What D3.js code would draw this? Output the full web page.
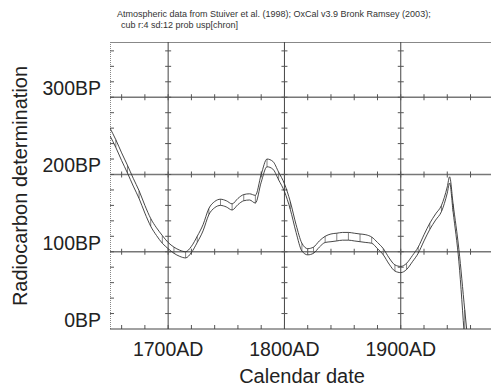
<!DOCTYPE html>
<html>
<head>
<meta charset="utf-8">
<script src="https://cdn.jsdelivr.net/npm/d3@7"></script>
<style>
  body { margin: 0; background: #fff; }
  svg { display: block; }
  text { font-family: "Liberation Sans", Arial, sans-serif; fill: #222; }
</style>
</head>
<body>
<div id="chart"></div>
<script>
// calibration curve (calendar year AD, radiocarbon age BP, 1 sigma)
const years = [1650,1655,1660,1665,1670,1675,1680,1685,1690,1695,
               1700,1705,1710,1715,1720,1725,1730,1735,1740,1745,
               1750,1755,1760,1765,1770,1775,1780,1785,1790,1795,
               1800,1805,1810,1815,1820,1825,1830,1835,1840,1845,
               1850,1855,1860,1865,1870,1875,1880,1885,1890,1895,
               1900,1905,1910,1915,1920,1925,1930,1935,1940,1942,
               1945,1950,1955,1960];
const bp = [255,240,223,207,190,174,155,138,126,116,
            108,102,98,96,103,116,131,152,161,164,
            162,158,165,170,171,168,195,215,212,198,
            183,160,130,106,100,102,110,116,118,119,
            120,120,119,118,117,115,108,100,88,79,
            77,81,91,102,118,133,145,156,180,193,
            157,95,5,-80];
const err = [5,5,5,5,5,5,5,5,5,5,
             4,4,4,4,4,4,4,4,4,4,
             4,4,4,4,4,5,5,5,5,5,
             5,5,5,5,4,4,4,4,5,5,
             5,5,5,5,5,4,4,4,4,4,
             4,4,4,4,4,4,4,4,4,4,
             5,8,20,30];

const xGrid = [1700, 1800, 1900];
const xLabels = ["1700AD", "1800AD", "1900AD"];
const yGrid = [0, 100, 200, 300];
const yLabels = ["0BP", "100BP", "200BP", "300BP"];
const titleLines = [
  "Atmospheric data from Stuiver et al. (1998); OxCal v3.9 Bronk Ramsey (2003);",
  "cub r:4 sd:12 prob usp[chron]"
];

const width = 491, height = 389;
const plotLeft = 110, plotTop = 42, plotBottom = 329;

const svg = d3.select("#chart").append("svg")
  .attr("width", width)
  .attr("height", height);

const x = d3.scaleLinear().domain([1650, 1980]).range([plotLeft, plotLeft + 330 * 1.163]);
const y = d3.scaleLinear().domain([0, 371.5]).range([plotBottom, plotTop]);

svg.append("clipPath").attr("id", "plot")
  .append("rect")
  .attr("x", plotLeft).attr("y", plotTop)
  .attr("width", width - plotLeft).attr("height", plotBottom - plotTop);

// frame
svg.append("line")
  .attr("x1", plotLeft).attr("x2", width).attr("y1", plotTop + 0.5).attr("y2", plotTop + 0.5)
  .attr("stroke", "#888").attr("stroke-width", 1);
svg.append("line")
  .attr("x1", plotLeft + 0.5).attr("x2", plotLeft + 0.5).attr("y1", plotTop).attr("y2", plotBottom)
  .attr("stroke", "#888").attr("stroke-width", 1).attr("stroke-dasharray", "1,1");

// grid lines
svg.selectAll(".vgrid")
  .data(xGrid)
  .enter()
  .append("line")
  .attr("x1", d => x(d)).attr("x2", d => x(d))
  .attr("y1", plotTop).attr("y2", plotBottom)
  .attr("stroke", "#444").attr("stroke-width", 1);

svg.selectAll(".hgrid")
  .data(yGrid.filter(d => d > 0))
  .enter()
  .append("line")
  .attr("x1", plotLeft).attr("x2", width)
  .attr("y1", d => y(d)).attr("y2", d => y(d))
  .attr("stroke", "#777").attr("stroke-width", 1.3);

// small ticks every 20 years / 20 BP, on the grid lines and the axes
const minorYears = d3.range(1660, 1981, 20);
const minorBP = d3.range(20, 371, 20);

yGrid.filter(d => d > 0).forEach(g => {
  svg.selectAll(null)
    .data(minorYears)
    .enter()
    .append("line")
    .attr("x1", d => x(d)).attr("x2", d => x(d))
    .attr("y1", y(g) - 3).attr("y2", y(g) + 3)
    .attr("stroke", "#555").attr("stroke-width", 1);
});

xGrid.forEach(g => {
  svg.selectAll(null)
    .data(minorBP)
    .enter()
    .append("line")
    .attr("x1", x(g) - 3).attr("x2", x(g) + 3)
    .attr("y1", d => y(d)).attr("y2", d => y(d))
    .attr("stroke", "#555").attr("stroke-width", 1);
});

svg.selectAll(".ltick")
  .data(minorBP)
  .enter()
  .append("line")
  .attr("x1", plotLeft).attr("x2", plotLeft + 4)
  .attr("y1", d => y(d)).attr("y2", d => y(d))
  .attr("stroke", "#555").attr("stroke-width", 1);

svg.selectAll(".btick")
  .data(minorYears)
  .enter()
  .append("line")
  .attr("x1", d => x(d)).attr("x2", d => x(d))
  .attr("y1", plotBottom - 4).attr("y2", plotBottom)
  .attr("stroke", "#555").attr("stroke-width", 1);

// bottom axis line
svg.append("line")
  .attr("x1", plotLeft).attr("x2", width).attr("y1", plotBottom).attr("y2", plotBottom)
  .attr("stroke", "#444").attr("stroke-width", 1.2);

// calibration band
const pts = years.map((yr, i) => ({ yr, bp: bp[i], e: err[i] }));
const band = svg.append("g").attr("clip-path", "url(#plot)");

const upper = d3.line().x(d => x(d.yr)).y(d => y(d.bp + d.e)).curve(d3.curveMonotoneX);
const lower = d3.line().x(d => x(d.yr)).y(d => y(d.bp - d.e)).curve(d3.curveMonotoneX);

band.selectAll(".seg")
  .data(pts.filter(d => d.yr % 10 === 5))
  .enter()
  .append("line")
  .attr("x1", d => x(d.yr)).attr("x2", d => x(d.yr))
  .attr("y1", d => y(d.bp + d.e)).attr("y2", d => y(d.bp - d.e))
  .attr("stroke", "#666").attr("stroke-width", 0.8);

band.append("path")
  .attr("d", upper(pts))
  .attr("fill", "none").attr("stroke", "#333").attr("stroke-width", 0.9);

band.append("path")
  .attr("d", lower(pts))
  .attr("fill", "none").attr("stroke", "#333").attr("stroke-width", 0.9);

// tick labels
svg.selectAll(".xlab")
  .data(xGrid)
  .enter()
  .append("text")
  .attr("x", d => x(d))
  .attr("y", 356)
  .attr("text-anchor", "middle")
  .style("font-size", "19.5px")
  .text((d, i) => xLabels[i]);

svg.selectAll(".ylab")
  .data(yGrid)
  .enter()
  .append("text")
  .attr("x", 101)
  .attr("y", d => y(d) - 2)
  .attr("text-anchor", "end")
  .style("font-size", "19.5px")
  .text((d, i) => yLabels[i]);

// axis titles
svg.append("text")
  .attr("x", 302)
  .attr("y", 383)
  .attr("text-anchor", "middle")
  .style("font-size", "20px")
  .text("Calendar date");

svg.append("text")
  .attr("transform", "translate(27,186) rotate(-90)")
  .attr("text-anchor", "middle")
  .style("font-size", "20px")
  .text("Radiocarbon determination");

// header
svg.selectAll(".title")
  .data(titleLines)
  .enter()
  .append("text")
  .attr("x", (d, i) => i === 0 ? 117 : 121)
  .attr("y", (d, i) => 17 + i * 10.5)
  .style("font-size", "9px")
  .style("fill", "#333")
  .text(d => d);
</script>
</body>
</html>
